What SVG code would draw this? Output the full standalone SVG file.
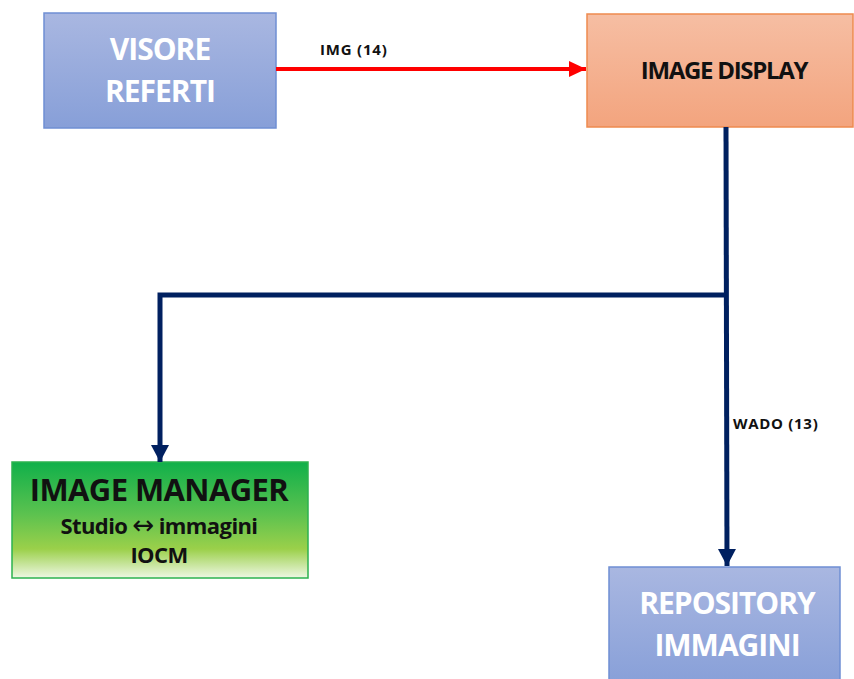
<svg xmlns="http://www.w3.org/2000/svg" width="854" height="679" viewBox="0 0 854 679">
<defs>
<linearGradient id="gBlue" x1="0" y1="0" x2="0" y2="1"><stop offset="0" stop-color="#a9b7e1"/><stop offset="1" stop-color="#879fd8"/></linearGradient>
<linearGradient id="gOrange" x1="0" y1="0" x2="0" y2="1"><stop offset="0" stop-color="#f6bea3"/><stop offset="1" stop-color="#f3a47e"/></linearGradient>
<linearGradient id="gGreen" x1="0" y1="0" x2="0" y2="1"><stop offset="0" stop-color="#10b04a"/><stop offset="0.45" stop-color="#5cc24f"/><stop offset="0.75" stop-color="#9bd04a"/><stop offset="1" stop-color="#eef7e4"/></linearGradient>
<marker id="arrRed" markerUnits="userSpaceOnUse" markerWidth="18" markerHeight="16" refX="17" refY="8" orient="auto"><path d="M0,0 L17,8 L0,16 Z" fill="#ff0000"/></marker>
<marker id="arrNavy" markerUnits="userSpaceOnUse" markerWidth="18" markerHeight="18" refX="17" refY="9" orient="auto"><path d="M0,0 L17,9 L0,18 Z" fill="#002060"/></marker>
</defs>
<style>
.box-blue{fill:url(#gBlue);stroke:#6f8fd3;stroke-width:1.5}
.box-orange{fill:url(#gOrange);stroke:#ee8a4f;stroke-width:1.5}
.box-green{fill:url(#gGreen);stroke:#2cb24f;stroke-width:1.5}
.t{font-family:"Open Sans","Liberation Sans",sans-serif;font-weight:bold;text-anchor:middle}
.white{fill:#ffffff}
.black{fill:#111111}
.lbl{font-family:"Open Sans","Liberation Sans",sans-serif;font-weight:bold;font-size:15px;fill:#111111}
.navy{fill:none;stroke:#002060;stroke-width:5}
.red{fill:none;stroke:#ff0000;stroke-width:4}
.arw{font-family:"DejaVu Sans",sans-serif;font-weight:normal}
</style>
<rect width="854" height="679" fill="#ffffff"/>
<g id="visore-referti">
<rect class="box-blue" x="44" y="13" width="232" height="115"/>
<text class="t white" x="160" y="60" font-size="30" letter-spacing="-1">VISORE</text>
<text class="t white" x="160" y="102" font-size="30" letter-spacing="-1">REFERTI</text>
</g>
<g id="image-display">
<rect class="box-orange" x="587" y="14" width="266" height="113"/>
<text class="t black" x="724" y="79" font-size="24" letter-spacing="-1.3">IMAGE DISPLAY</text>
</g>
<g id="image-manager">
<rect class="box-green" x="12" y="462" width="296" height="116"/>
<text class="t black" x="159" y="501" font-size="31" letter-spacing="-0.6">IMAGE MANAGER</text>
<text class="t black" x="159" y="534" font-size="22" letter-spacing="-0.6">Studio <tspan class="arw" font-size="26">↔</tspan> immagini</text>
<text class="t black" x="159" y="563" font-size="22" letter-spacing="-0.6">IOCM</text>
</g>
<g id="repository-immagini">
<rect class="box-blue" x="609" y="567" width="231" height="120"/>
<text class="t white" x="727" y="614" font-size="30" letter-spacing="-1">REPOSITORY</text>
<text class="t white" x="727" y="656" font-size="30" letter-spacing="-1">IMMAGINI</text>
</g>
<g id="connectors">
<path class="red" d="M276,69 L586,69" marker-end="url(#arrRed)"/>
<text class="lbl" x="320" y="55" letter-spacing="0.8">IMG  (14)</text>
<path class="navy" d="M726,127 L727,566" marker-end="url(#arrNavy)"/>
<path class="navy" d="M726,295 L160,295 L160,462" marker-end="url(#arrNavy)"/>
<text class="lbl" x="733" y="429" letter-spacing="0.7">WADO (13)</text>
</g>
</svg>
